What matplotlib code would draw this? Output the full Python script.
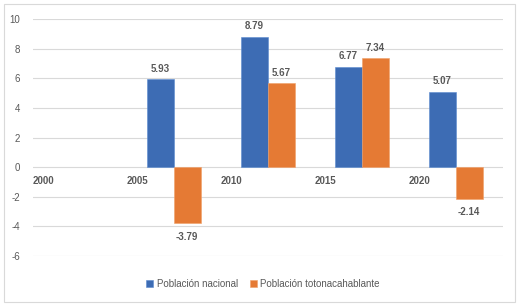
import numpy as np
import matplotlib.pyplot as plt
from matplotlib.patches import Rectangle

# datos
years = ['2000', '2005', '2010', '2015', '2020']
nacional = [np.nan, 5.93, 8.79, 6.77, 5.07]
totonaca = [np.nan, -3.79, 5.67, 7.34, -2.14]
series_names = ['Población nacional', 'Población totonacahablante']

blue = '#3d6cb4'
orange = '#e57a34'
gray = '#595959'

plt.rcParams['font.family'] = ['Liberation Sans', 'DejaVu Sans']
plt.rcParams['axes.unicode_minus'] = False

fig = plt.figure(figsize=(5.21, 3.06), dpi=100)
ax = fig.add_axes([0.063, 0.163, 0.902, 0.775])

x = np.arange(len(years))
w = 0.287
b1 = ax.bar(x - w / 2, nacional, w, color=blue, edgecolor='#5b8bd0', linewidth=0.4, label=series_names[0])
b2 = ax.bar(x + w / 2, totonaca, w, color=orange, edgecolor='#f0a068', linewidth=0.4, label=series_names[1])

# etiquetas de datos
for bars, vals in [(b1, nacional), (b2, totonaca)]:
    for rect, v in zip(bars, vals):
        if np.isnan(v):
            continue
        cx = rect.get_x() + rect.get_width() / 2
        if v >= 0:
            ax.annotate(f'{v:.2f}', (cx, v), xytext=(0, 4), textcoords='offset points',
                        ha='center', va='bottom', fontsize=7, color=gray, fontweight='semibold')
        else:
            ax.annotate(f'{v:.2f}', (cx, v), xytext=(0, -6), textcoords='offset points',
                        ha='center', va='top', fontsize=7, color=gray, fontweight='semibold')

ax.set_xlim(-0.5, len(years) - 0.5)
ax.set_ylim(-6, 10)
ax.set_yticks(range(-6, 11, 2))

# etiquetas de categoria sobre el eje cero, corridas a la izquierda
ax.spines['bottom'].set_position(('data', 0))
ax.set_xticks(x - 0.39)
ax.set_xticklabels(years, fontsize=7, fontweight='bold', color=gray)
ax.tick_params(axis='x', length=0, pad=6)
ax.tick_params(axis='y', length=0, pad=9, labelsize=7, labelcolor=gray)

for s in ax.spines.values():
    s.set_visible(False)
ax.grid(axis='y', color='#d9d9d9', linewidth=0.8)
ax.set_axisbelow(True)

fig.legend(loc='center', bbox_to_anchor=(0.505, 0.072), ncol=2, frameon=False,
           fontsize=7, handlelength=0.7, handleheight=0.7, handletextpad=0.4,
           columnspacing=1.2, labelcolor=gray)

fig.patches.append(Rectangle((0.007, 0.013), 0.982, 0.975, transform=fig.transFigure,
                             fill=False, edgecolor='#d9d9d9', linewidth=0.8))

fig.savefig('out.png', dpi=100)
